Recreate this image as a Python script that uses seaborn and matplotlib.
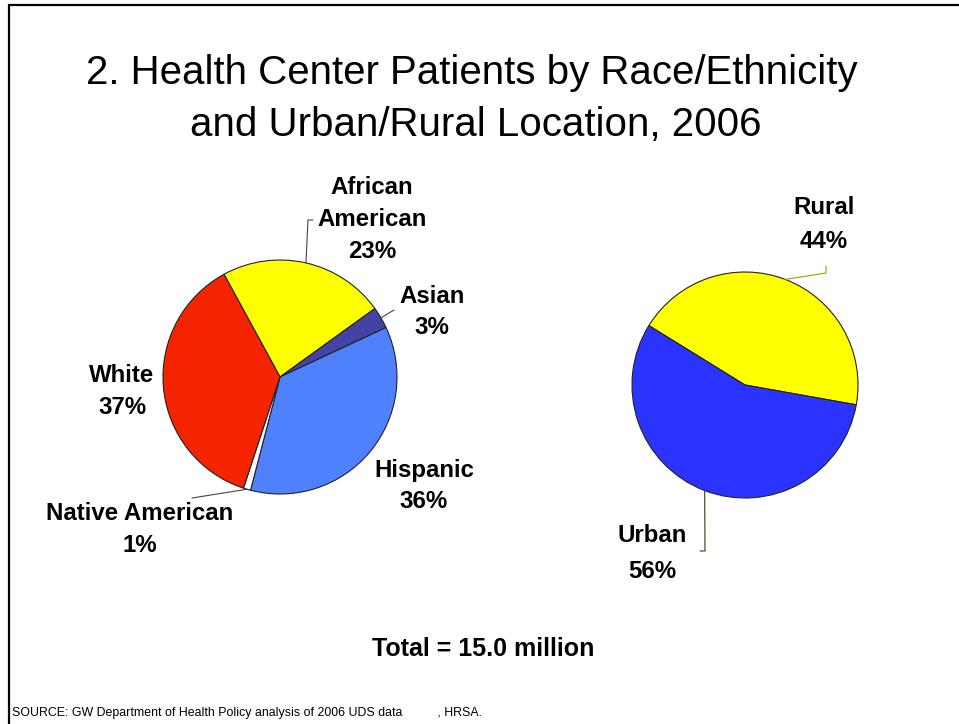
import numpy as np
import matplotlib
matplotlib.use("Agg")
import matplotlib.pyplot as plt
from matplotlib.lines import Line2D
import seaborn as sns

# ---- data ----
race_labels = ["African\nAmerican", "Asian", "Hispanic", "Native American", "White"]
race_values = [23, 3, 36, 1, 37]
race_colors = ["#FFFF00", "#4343A6", "#4F81FF", "#FFFFFF", "#F52400"]

loc_labels = ["Rural", "Urban"]
loc_values = [44, 56]
loc_colors = ["#FFFF00", "#2B34FF"]

title_lines = ["2. Health Center Patients by Race/Ethnicity",
               "and Urban/Rural Location, 2006"]
total_text = "Total = 15.0 million"
source_text = "SOURCE: GW Department of Health Policy analysis of 2006 UDS data          , HRSA."

sns.set_theme(style="white")
plt.rcParams["font.family"] = ["Liberation Sans", "DejaVu Sans"]
plt.rcParams["text.color"] = "black"

W, H = 959, 724
fig = plt.figure(figsize=(W / 100, H / 100), dpi=100)
fig.patch.set_facecolor("white")


def fx(x):
    return x / W


def fy(y):
    return 1 - y / H


def pie_axes(cx, cy, r):
    ax = fig.add_axes([fx(cx - r), fy(cy + r), 2 * r / W, 2 * r / H])
    return ax


# frame lines
fig.add_artist(Line2D([fx(9), fx(W + 5)], [fy(5), fy(5)], color="black", lw=1.6))
fig.add_artist(Line2D([fx(9), fx(9)], [fy(5), fy(H + 5)], color="black", lw=1.6))

# titles
fig.text(fx(472), fy(73), title_lines[0], ha="center", va="center", fontsize=29,
         color="black")
fig.text(fx(476), fy(125), title_lines[1], ha="center", va="center", fontsize=29,
         color="black")

# ---- left pie ----
L_cx, L_cy, L_r = 280, 377, 117
axL = pie_axes(L_cx, L_cy, L_r)
wedgesL, _ = axL.pie(race_values, colors=race_colors, startangle=118.6,
                     counterclock=False,
                     wedgeprops=dict(edgecolor="#222222", linewidth=0.8))
axL.set_xlim(-1, 1)
axL.set_ylim(-1, 1)
axL.set_aspect("equal")
axL.axis("off")

# ---- right pie ----
R_cx, R_cy, R_r = 745, 385, 113
axR = pie_axes(R_cx, R_cy, R_r)
wedgesR, _ = axR.pie(loc_values, colors=loc_colors, startangle=148.3,
                     counterclock=False,
                     wedgeprops=dict(edgecolor="#222222", linewidth=0.8))
axR.set_xlim(-1, 1)
axR.set_ylim(-1, 1)
axR.set_aspect("equal")
axR.axis("off")


def edge_point(wedge, cx, cy, r):
    ang = np.deg2rad((wedge.theta1 + wedge.theta2) / 2)
    return cx + r * np.cos(ang), cy - r * np.sin(ang)


def leader(start, pts, color="#444444"):
    xs = [start[0]] + [p[0] for p in pts]
    ys = [start[1]] + [p[1] for p in pts]
    fig.add_artist(Line2D([fx(v) for v in xs], [fy(v) for v in ys],
                          color=color, lw=0.8))


def label(x, ys, lines, size=17.3):
    for yy, t in zip(ys, lines):
        fig.text(fx(x), fy(yy), t, ha="center", va="center", fontsize=size,
                 fontweight="bold", color="black")


pct = [f"{v}%" for v in race_values]
# African American
leader(edge_point(wedgesL[0], L_cx, L_cy, L_r), [(308, 220), (313, 220)])
label(372, [188, 220, 252], ["African", "American", pct[0]])
# Asian
leader(edge_point(wedgesL[1], L_cx, L_cy, L_r), [(394, 310)])
label(432, [296, 327], ["Asian", pct[1]])
# Hispanic
label(424, [471, 502], ["Hispanic", pct[2]])
# Native American
leader(edge_point(wedgesL[3], L_cx, L_cy, L_r), [(192, 498)])
label(140, [514, 546], ["Native American", pct[3]])
# White
label(122, [375, 407], ["White", pct[4]])

lpct = [f"{v}%" for v in loc_values]
leader(edge_point(wedgesR[0], R_cx, R_cy, R_r), [(826, 273), (826, 266)], color="#A89A00")
label(824, [208, 241], ["Rural", lpct[0]])
leader(edge_point(wedgesR[1], R_cx, R_cy, R_r), [(705, 551), (700, 551)], color="#3A3A10")
label(652, [535, 571], ["Urban", lpct[1]])

fig.text(fx(483), fy(649), total_text, ha="center", va="center", fontsize=18,
         fontweight="bold", color="black")
fig.text(fx(12), fy(713), source_text, ha="left", va="center", fontsize=8.9,
         color="black")

fig.savefig("out.png", dpi=100)
